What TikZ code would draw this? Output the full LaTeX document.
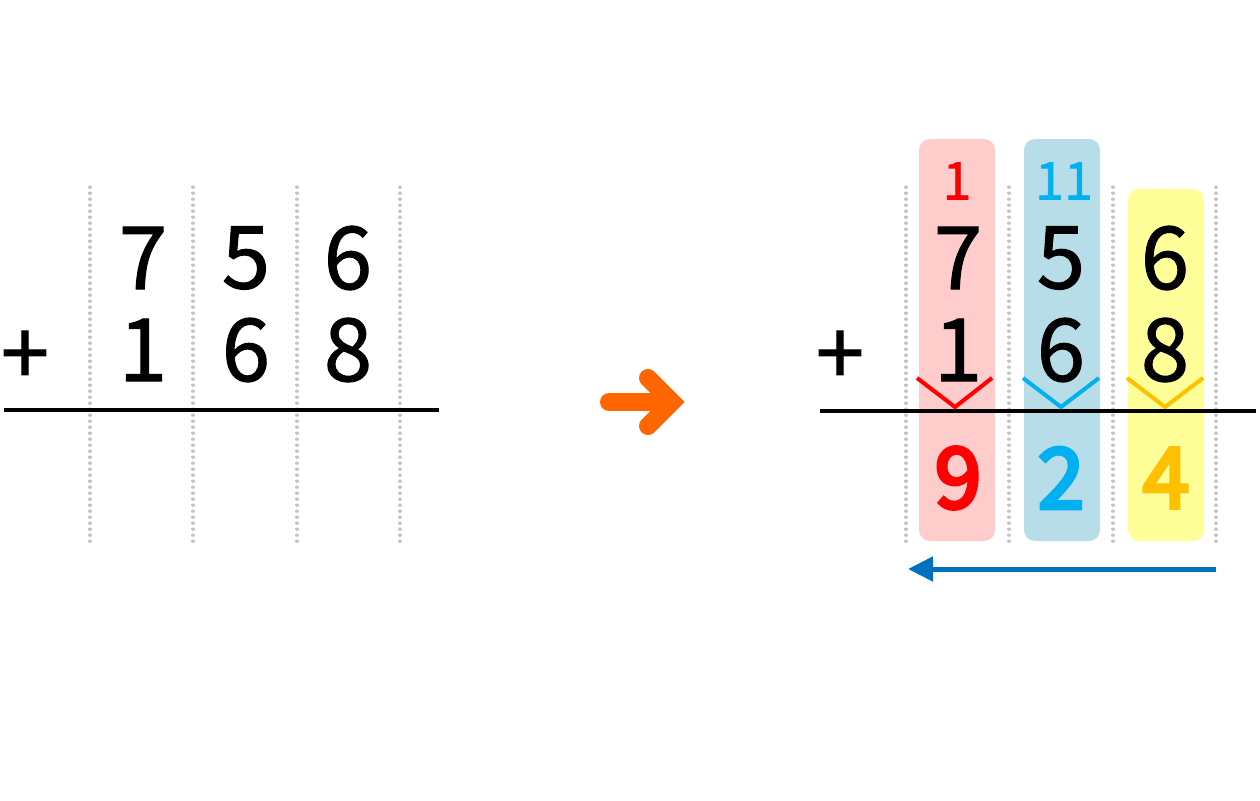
\documentclass[tikz,border=0pt]{standalone}
\usepackage{fontspec}
\newfontfamily\dg{Noto Sans CJK JP}[BoldFont={Noto Sans CJK JP}, BoldFeatures={FakeBold=1.2}]
\newfontfamily\dgr{Noto Sans CJK JP}[BoldFont={Noto Sans CJK JP}, BoldFeatures={FakeBold=4.5}]
\usetikzlibrary{arrows.meta}
\definecolor{gridgray}{HTML}{C4C4C4}
\definecolor{pinkbg}{HTML}{FFCCCC}
\definecolor{bluebg}{HTML}{B7DEE8}
\definecolor{yellowbg}{HTML}{FFFF99}
\definecolor{cred}{HTML}{FF0000}
\definecolor{cblue}{HTML}{00B0F0}
\definecolor{cyel}{HTML}{FFC000}
\definecolor{arrblue}{HTML}{0070C0}
\definecolor{arrorange}{HTML}{FF6600}
\tikzset{
  dotline/.style={draw=gridgray, line width=3.2pt, line cap=round, dash pattern=on 0.4pt off 5.6pt},
  digit/.style={inner sep=0pt, font=\dg\bfseries\fontsize{87}{87}\selectfont},
  carry/.style={inner sep=0pt, font=\dg\bfseries\fontsize{52}{52}\selectfont},
  result/.style={inner sep=0pt, font=\dgr\bfseries\fontsize{84}{84}\selectfont},
  colbox/.style={rounded corners=11pt},
  chev/.style={line width=4pt, line join=miter},
  sumline/.style={line width=3.5pt}
}
\begin{document}
\begin{tikzpicture}[x=1pt,y=-1pt]
\useasboundingbox (0,0) rectangle (1260,800);
% left panel grid
\foreach \x in {90,193,297,400}{\draw[dotline] (\x,187) -- (\x,543);}
\node[digit] (l7) at (143,258) {7};
\node[digit] (l5) at (246,258) {5};
\node[digit] (l6) at (348,258) {6};
\node[digit] (lp) at (25,358) {+};
\node[digit] (l1) at (143,350) {1};
\node[digit] (l6b) at (246,350) {6};
\node[digit] (l8) at (348,350) {8};
\draw[sumline] (4,410) -- (439,410);
% orange arrow
\draw[arrorange, line width=18pt, line cap=round] (609,402) -- (665,402);
\draw[arrorange, line width=18pt, line cap=round, line join=miter] (648,378) -- (672,402) -- (648,426);
% right panel boxes
\fill[pinkbg, colbox] (919,139) rectangle (995,541);
\fill[bluebg, colbox] (1024,139) rectangle (1100,541);
\fill[yellowbg, colbox] (1128,189) rectangle (1204,541);
\foreach \x in {906,1009,1113,1216}{\draw[dotline] (\x,187) -- (\x,543);}
\node[carry, text=cred] (c1) at (957,181) {1};
\node[carry, text=cblue] (c2) at (1064,181) {11};
\node[digit] (r7) at (958,258) {7};
\node[digit] (r5) at (1061,258) {5};
\node[digit] (r6) at (1165,258) {6};
\node[digit] (rp) at (840,358) {+};
\node[digit] (r1) at (958,350) {1};
\node[digit] (r6b) at (1061,350) {6};
\node[digit] (r8) at (1165,350) {8};
\draw[chev, cred] (917,378) -- (955,407) -- (992,378);
\draw[chev, cblue] (1023,378) -- (1061,407) -- (1099,378);
\draw[chev, cyel] (1127,378) -- (1165,407) -- (1203,378);
\draw[sumline] (820,411) -- (1256,411);
\node[result, text=cred] (s9) at (958,478) {9};
\node[result, text=cblue] (s2) at (1061,478) {2};
\node[result, text=cyel] (s4) at (1166,478) {4};
% blue arrow
\coordinate (ba) at (1216,569);
\coordinate (bb) at (908,569);
\draw[arrblue, line width=5pt, -{Triangle[length=25pt,width=24pt]}] (ba) -- (bb);
\end{tikzpicture}
\end{document}
